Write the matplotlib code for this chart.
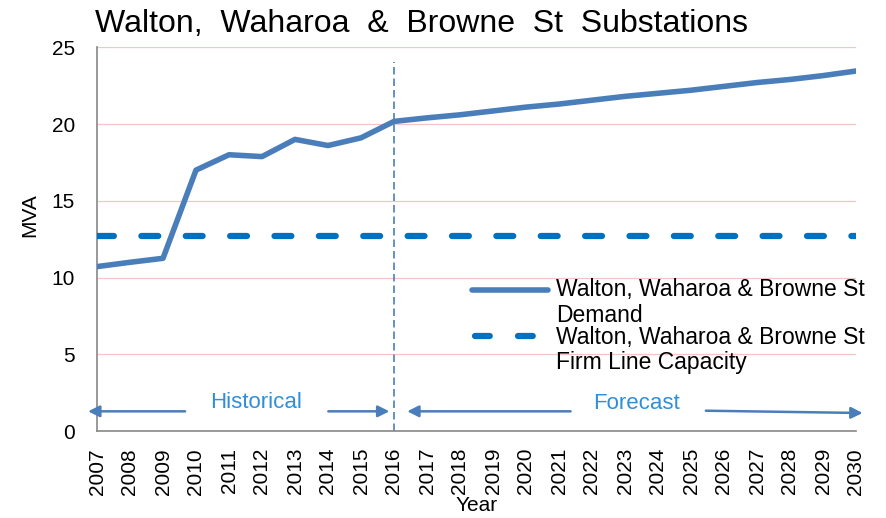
import matplotlib.pyplot as plt
from matplotlib.lines import Line2D

plt.rcParams['font.family'] = ['Liberation Sans', 'DejaVu Sans']

years = list(range(2007, 2031))
demand = [10.72, 11.0, 11.26, 17.0, 18.0, 17.88, 19.0, 18.6, 19.1, 20.17,
          20.4, 20.6, 20.85, 21.1, 21.3, 21.55, 21.8, 22.0, 22.2, 22.45,
          22.7, 22.9, 23.15, 23.45]
capacity = [12.71] * len(years)
split_year = 2016
demand_label = 'Walton, Waharoa & Browne St\nDemand'
capacity_label = 'Walton, Waharoa & Browne St\nFirm Line Capacity'

W, H = 886, 518
fig = plt.figure(figsize=(W / 100, H / 100), dpi=100)
ax = fig.add_axes([97 / W, 1 - 431.3 / H, 759 / W, 384.1 / H])

demand_color = '#4a7ebb'
cap_color = '#0070c0'
cap_dash = (0, (2.7, 4.4))

for v in [5, 10, 15, 20, 25]:
    ax.axhline(v, color='#f2c6c6', lw=0.9, zorder=0)

ax.plot(years, demand, color=demand_color, lw=4.0, solid_capstyle='round',
        solid_joinstyle='round', zorder=3)
ax.plot(years, capacity, color=cap_color, lw=4.5, ls=cap_dash,
        dash_capstyle='round', zorder=3)
ax.plot([split_year, split_year], [0, 24.06], color=demand_color, lw=1.2,
        ls=(0, (4.5, 2.4)), zorder=2)

text_color = '#2f8fd8'
ap = dict(arrowstyle='-|>', color=demand_color, lw=1.8, mutation_scale=17,
          shrinkA=0, shrinkB=0)
# historical
ax.annotate('', xy=(2006.73, 1.3), xytext=(2009.67, 1.3), arrowprops=ap,
            annotation_clip=False)
ax.annotate('', xy=(2015.86, 1.3), xytext=(2014.01, 1.3), arrowprops=ap,
            annotation_clip=False)
ax.text(2011.82, 1.86, 'Historical', color=text_color, fontsize=16,
        ha='center', va='center')
# forecast
ax.annotate('', xy=(2016.4, 1.3), xytext=(2021.35, 1.3), arrowprops=ap,
            annotation_clip=False)
ax.annotate('', xy=(2030.2, 1.19), xytext=(2025.45, 1.34), arrowprops=ap,
            annotation_clip=False)
ax.text(2023.35, 1.79, 'Forecast', color=text_color, fontsize=16,
        ha='center', va='center')

ax.set_xlim(2007, 2030)
ax.set_ylim(0, 25)
ax.set_xticks(years)
ax.set_xticklabels([str(y) for y in years], rotation=90, fontsize=15)
ax.set_yticks([0, 5, 10, 15, 20, 25])
ax.tick_params(axis='y', labelsize=15, length=0, pad=16)
ax.tick_params(axis='x', length=0, pad=12)
for s in ['top', 'right']:
    ax.spines[s].set_visible(False)
for s in ['left', 'bottom']:
    ax.spines[s].set_color('#888888')
    ax.spines[s].set_linewidth(1.2)

ax.set_ylabel('MVA', fontsize=15)
ax.yaxis.set_label_coords(-0.0764, 0.563)
ax.set_xlabel('Year', fontsize=15, labelpad=1)

# legend drawn by hand so the handles sit on the first text line
fig.add_artist(Line2D([472 / W, 548 / W], [1 - 290 / H, 1 - 290 / H],
                      color=demand_color, lw=4.0, solid_capstyle='round'))
fig.add_artist(Line2D([475 / W, 533 / W], [1 - 336 / H, 1 - 336 / H],
                      color=cap_color, lw=4.5, ls=(0, (2.36, 4.52)),
                      dash_capstyle='round'))
fig.text(556 / W, 1 - 302.5 / H, demand_label, fontsize=16.5, ha='left',
         va='center', linespacing=1.12)
fig.text(556 / W, 1 - 350 / H, capacity_label, fontsize=16.5, ha='left',
         va='center', linespacing=1.12)

fig.text(95 / W, 1 - 32 / H, 'Walton,  Waharoa  &  Browne  St  Substations',
         fontsize=23, ha='left', va='baseline')

fig.savefig('out.png', dpi=100)
